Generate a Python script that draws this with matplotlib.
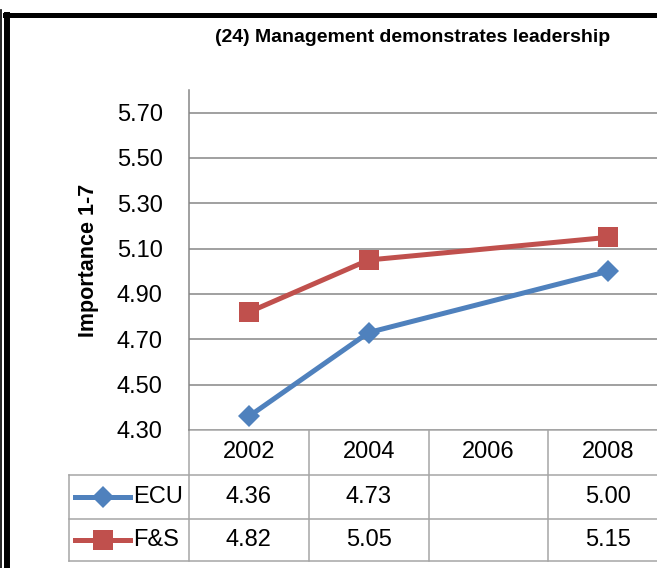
import numpy as np
import pandas as pd
import matplotlib
matplotlib.use("Agg")
import matplotlib.pyplot as plt
from matplotlib import font_manager, transforms
from matplotlib.lines import Line2D

# ----------------------------
# Data
# ----------------------------
TITLE = "(24) Management demonstrates leadership"
YLABEL = "Importance 1-7"
years = ["2002", "2004", "2006", "2008"]
ecu = [4.36, 4.73, np.nan, 5.00]
fs = [4.82, 5.05, np.nan, 5.15]
series_names = ["ECU", "F&S"]
yticks = [4.30, 4.50, 4.70, 4.90, 5.10, 5.30, 5.50, 5.70]
y_min, y_max = 4.30, 5.80

BLUE = "#4F81BD"
RED = "#C0504D"
GRID = "#868686"
TABLE = "#A6A6A6"

names = {f.name for f in font_manager.fontManager.ttflist}
NARROW = "Liberation Sans Narrow" in names
FONT = "Liberation Sans Narrow" if NARROW else "Liberation Sans"
plt.rcParams["font.family"] = [FONT, "DejaVu Sans"]
FS = 19 if NARROW else 17  # regular wide font needs a smaller size

fig = plt.figure(figsize=(6.57, 5.68), dpi=100)
W, H = 657, 568
ax = fig.add_axes([189 / W, 1 - 430 / H, 479 / W, 340 / H])

x = np.arange(len(years))
styles = [(BLUE, "D", 11), (RED, "s", 14.5)]
data = [ecu, fs]
for vals, (col, mk, ms) in zip(data, styles):
    s = pd.Series(vals, index=x).dropna()
    ax.plot(s.index, s.values, color=col, lw=3.6, marker=mk, ms=ms,
            markeredgewidth=0, zorder=3, solid_joinstyle="round")

ax.set_xlim(-0.5, len(years) - 0.5)
ax.set_ylim(y_min, y_max)
ax.set_yticks(yticks)
ax.set_yticklabels([f"{t:.2f}" for t in yticks], fontsize=FS, color="#000000")
ax.tick_params(axis="y", length=0, pad=19)
ax.set_xticks([])
ax.grid(axis="y", color=GRID, lw=1.1)
ax.set_axisbelow(True)
for sp in ["top", "right", "bottom"]:
    ax.spines[sp].set_visible(False)
ax.spines["left"].set_color(GRID)
ax.spines["left"].set_linewidth(1.1)

ax.set_ylabel(YLABEL, fontsize=15.5, fontweight="bold")
ax.yaxis.set_label_coords(-0.188, 0.5)

# ----------------------------
# Data table under the plot
# ----------------------------
tr = transforms.blended_transform_factory(ax.transData, ax.transAxes)
rows = [0.0, -45 / 340, -89 / 340, -131 / 340]  # header / ECU / F&S row edges
left = -1.5
right = len(years) - 0.5

def hline(x0, x1, y):
    ax.add_line(Line2D([x0, x1], [y, y], transform=tr, color=TABLE, lw=1.1, clip_on=False))

def vline(xp, y0, y1):
    ax.add_line(Line2D([xp, xp], [y0, y1], transform=tr, color=TABLE, lw=1.1, clip_on=False))

hline(-0.5, right, rows[0])
for r in rows[1:]:
    hline(left, right, r)
for i in range(len(years) + 1):
    vline(i - 0.5, rows[0], rows[3])
vline(left, rows[1], rows[3])

for i, yr in enumerate(years):
    ax.text(i, (rows[0] + rows[1]) / 2, yr, transform=tr, ha="center", va="center", fontsize=FS)

for k, (vals, name, (col, mk, ms)) in enumerate(zip(data, series_names, styles)):
    yc = (rows[k + 1] + rows[k + 2]) / 2
    for i, v in enumerate(vals):
        if not np.isnan(v):
            ax.text(i, yc, f"{v:.2f}", transform=tr, ha="center", va="center", fontsize=FS)
    ax.add_line(Line2D([-1.45, -0.99], [yc, yc], transform=tr, color=col, lw=3.6, clip_on=False))
    ax.add_line(Line2D([-1.22], [yc], transform=tr, color=col, marker=mk, ms=ms,
                       markeredgewidth=0, clip_on=False))
    ax.text(-0.97, yc, name, transform=tr, ha="left", va="center", fontsize=FS)

fig.text(413 / W, 1 - 37 / H, TITLE, ha="center", va="center", fontsize=14, fontweight="bold")

# outer chart frame (left / top)
fig.add_artist(Line2D([0.5 / W, 0.5 / W], [0, 1 - 10 / H], transform=fig.transFigure, color="black", lw=1.2))
fig.add_artist(Line2D([6.5 / W, 6.5 / W], [0, 1 - 15 / H], transform=fig.transFigure, color="black", lw=4.3))
fig.add_artist(Line2D([4.5 / W, 1], [1 - 15 / H, 1 - 15 / H], transform=fig.transFigure, color="black", lw=3.6))

fig.savefig("out.png", dpi=100)
